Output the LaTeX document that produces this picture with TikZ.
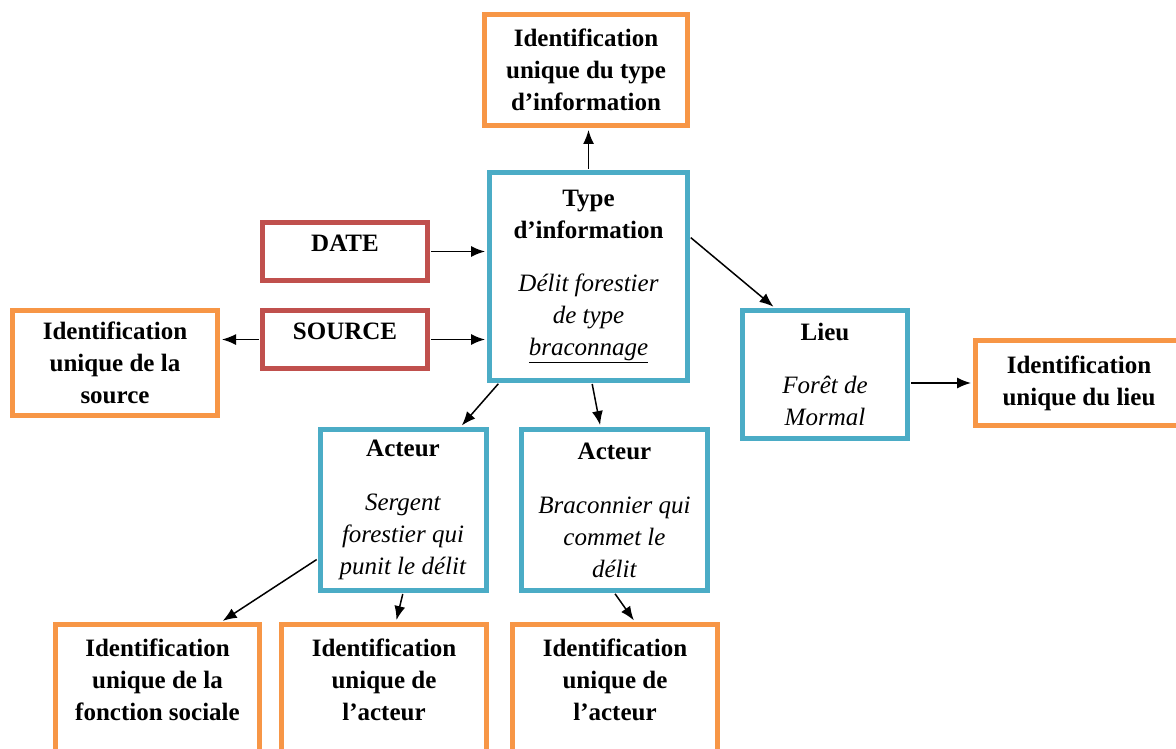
\documentclass[tikz,border=0pt]{standalone}
\usepackage{fontspec}
\setmainfont{Liberation Serif}
\usepackage{tikz}
\usetikzlibrary{arrows.meta}
\definecolor{idorange}{RGB}{247,150,70}
\definecolor{entblue}{RGB}{75,172,198}
\definecolor{metared}{RGB}{192,80,77}

\begin{document}
\begin{tikzpicture}[x=1pt, y=-1pt,
	ident/.style={draw=idorange, line width=5pt, align=center, font=\fontsize{25}{32}\selectfont\bfseries},
	entity/.style={draw=entblue, line width=5pt, align=center, font=\fontsize{25}{32}\selectfont},
	meta/.style={draw=metared, line width=5pt, align=center, font=\fontsize{25}{32}\selectfont\bfseries},
	link/.style={-{Latex[length=14pt,width=11pt]}, line width=1.5pt, shorten >=2pt, shorten <=1pt}]
			\useasboundingbox (0,0) rectangle (1176,749);
			\node[entity, minimum width=198pt, minimum height=208pt] at (588.5,276.5) (typ){\textbf{Type}\\\textbf{d’information}\\[21pt]\textit{Délit forestier}\\\textit{de type}\\\textit{\underline{braconnage}}};
			\node[ident, minimum width=203pt, minimum height=111pt] at (586,70) (topid){Identification\\unique du type\\d’information};
			\node[meta, minimum width=165pt, minimum height=58pt] at (345,251.5) (date){DATE\\[-16pt]\mbox{}};
			\node[meta, minimum width=165pt, minimum height=58pt] at (345,339.5) (source){SOURCE\\[-16pt]\mbox{}};
			\node[ident, minimum width=205pt, minimum height=105pt] at (115,363) (srcid){Identification\\unique de la\\source};
			\node[entity, minimum width=165pt, minimum height=128pt] at (825,374.5) (lieu){\textbf{Lieu}\\[21pt]\textit{Forêt de}\\\textit{Mormal}};
			\node[ident, minimum width=207pt, minimum height=85pt] at (1079,383) (lieuid){Identification\\unique du lieu};
			\node[entity, minimum width=166pt, minimum height=161pt] at (403,510) (act1){\textbf{Acteur}\\[22pt]\textit{Sergent}\\\textit{forestier qui}\\\textit{punit le délit}};
			\node[entity, minimum width=186pt, minimum height=161pt] at (614.5,510) (act2){\textbf{Acteur}\\[22pt]\textit{Braconnier qui}\\\textit{commet le}\\\textit{délit}};
			\node[ident, minimum width=204pt, minimum height=143pt] at (157.5,696) (fonctid){Identification\\unique de la\\fonction sociale\\\mbox{}};
			\node[ident, minimum width=205pt, minimum height=143pt] at (384,696) (act1id){Identification\\unique de\\l’acteur\\\mbox{}};
			\node[ident, minimum width=205pt, minimum height=143pt] at (615,696) (act2id){Identification\\unique de\\l’acteur\\\mbox{}};
			\draw[link] (typ.north) -- (typ.north |- topid.south);
			\draw[link] (date) -- (date -| typ.west);
			\draw[link] (source) -- (source -| typ.west);
			\draw[link] (source.west) -- (source.west -| srcid.east);
			\draw[link] ([yshift=-67pt]typ.north east) -- ([xshift=35pt]lieu.north west);
			\draw[link] (lieu.east |- lieuid) -- (lieuid.west);
			\draw[link] ([xshift=12pt]typ.south west) -- ([xshift=-28pt]act1.north east);
			\draw[link] ([xshift=3.5pt]typ.south) -- ([xshift=-14pt]act2.north);
			\draw[link] ([yshift=34pt]act1.south west) -- ([xshift=-41pt]fonctid.north east);
			\draw[link] (act1.south) -- ([xshift=12pt]act1id.north);
			\draw[link] (act2.south) -- ([xshift=20pt]act2id.north);
		\end{tikzpicture}
\end{document}
